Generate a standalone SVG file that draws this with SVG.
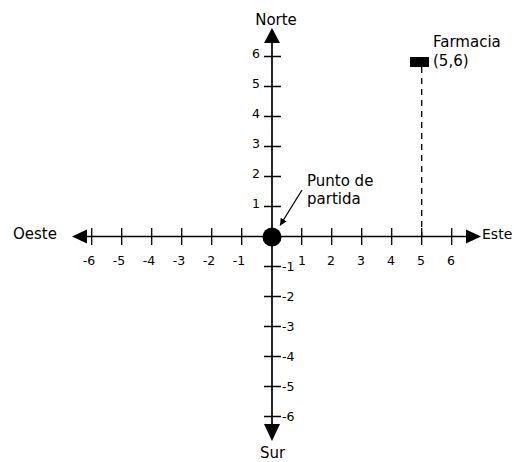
<svg xmlns="http://www.w3.org/2000/svg" width="514" height="462" viewBox="0 0 514 462">
<style>
.ax{stroke:#000;stroke-width:1.7;fill:none}
.tk{stroke:#000;stroke-width:1.3;fill:none}
.hd{fill:#000;stroke:none}
text{font-family:"DejaVu Sans",sans-serif;fill:#000}
.lb{font-size:15px}
.nm{font-size:12.5px}
.xn{text-anchor:middle}
.yl{text-anchor:end}
</style>
<defs>
<marker id="ah" viewBox="0 0 10 10" refX="10" refY="5" markerWidth="7" markerHeight="7" markerUnits="userSpaceOnUse" orient="auto"><path d="M0,0 L10,5 L0,10 Z" fill="#000"/></marker>
</defs>
<rect width="514" height="462" fill="#fff"/>
<g id="connectors">
<g id="x-axis">
<line class="ax" x1="80" y1="236.5" x2="472" y2="236.5"/>
<polygon class="hd" points="72,236.5 87,229.5 87,243.5"/>
<polygon class="hd" points="481,236.5 466,229.5 466,243.5"/>
<path class="tk" d="M91.7,228V245M121.7,228V245M151.7,228V245M181.7,228V245M211.7,228V245M241.7,228V245M301.7,228V245M331.7,228V245M361.7,228V245M391.7,228V245M421.7,228V245M451.7,228V245"/>
</g>
<g id="y-axis">
<line class="ax" x1="272" y1="36" x2="272" y2="432"/>
<polygon class="hd" points="272,28 264,43 280,43"/>
<polygon class="hd" points="272,441 264,424 280,424"/>
<path class="tk" d="M264,56.5H281M264,86.5H281M264,116.5H281M264,146.5H281M264,176.5H281M264,206.5H281M264,266.5H281M264,296.5H281M264,326.5H281M264,356.5H281M264,386.5H281M264,416.5H281"/>
</g>
<line id="farmacia-dash" x1="421.7" y1="67" x2="421.7" y2="236" stroke="#000" stroke-width="1.3" stroke-dasharray="6,5"/>
<line id="start-arrow" x1="302" y1="190" x2="280" y2="225.5" stroke="#000" stroke-width="1.3" marker-end="url(#ah)"/>
</g>
<g id="x-labels">
<text class="nm xn" x="89" y="265">-6</text>
<text class="nm xn" x="119" y="265">-5</text>
<text class="nm xn" x="149" y="265">-4</text>
<text class="nm xn" x="179" y="265">-3</text>
<text class="nm xn" x="209" y="265">-2</text>
<text class="nm xn" x="239" y="265">-1</text>
<text class="nm xn" x="302" y="265">1</text>
<text class="nm xn" x="331" y="265">2</text>
<text class="nm xn" x="361" y="265">3</text>
<text class="nm xn" x="391" y="265">4</text>
<text class="nm xn" x="421" y="265">5</text>
<text class="nm xn" x="451" y="265">6</text>
</g>
<g id="y-labels">
<text class="nm yl" x="260" y="58">6</text>
<text class="nm yl" x="260" y="88">5</text>
<text class="nm yl" x="260" y="118">4</text>
<text class="nm yl" x="260" y="148">3</text>
<text class="nm yl" x="260" y="178">2</text>
<text class="nm yl" x="260" y="208">1</text>
<text class="nm" x="282" y="271">-1</text>
<text class="nm" x="282" y="301">-2</text>
<text class="nm" x="282" y="331">-3</text>
<text class="nm" x="282" y="361">-4</text>
<text class="nm" x="282" y="391">-5</text>
<text class="nm" x="282" y="421">-6</text>
</g>
<g id="directions">
<text class="lb" x="276" y="25" text-anchor="middle">Norte</text>
<text class="lb" x="272.5" y="458" text-anchor="middle">Sur</text>
<text class="lb" x="13" y="239">Oeste</text>
<text x="482" y="239" style="font-size:14px">Este</text>
</g>
<g id="origin">
<circle cx="272" cy="237" r="9.5" fill="#000"/>
<text class="lb" x="307" y="186">Punto de</text>
<text class="lb" x="307" y="204">partida</text>
</g>
<g id="farmacia">
<rect x="410" y="57" width="19" height="10" fill="#000"/>
<text class="lb" x="433" y="47">Farmacia</text>
<text class="lb" x="433" y="66">(5,6)</text>
</g>
</svg>
